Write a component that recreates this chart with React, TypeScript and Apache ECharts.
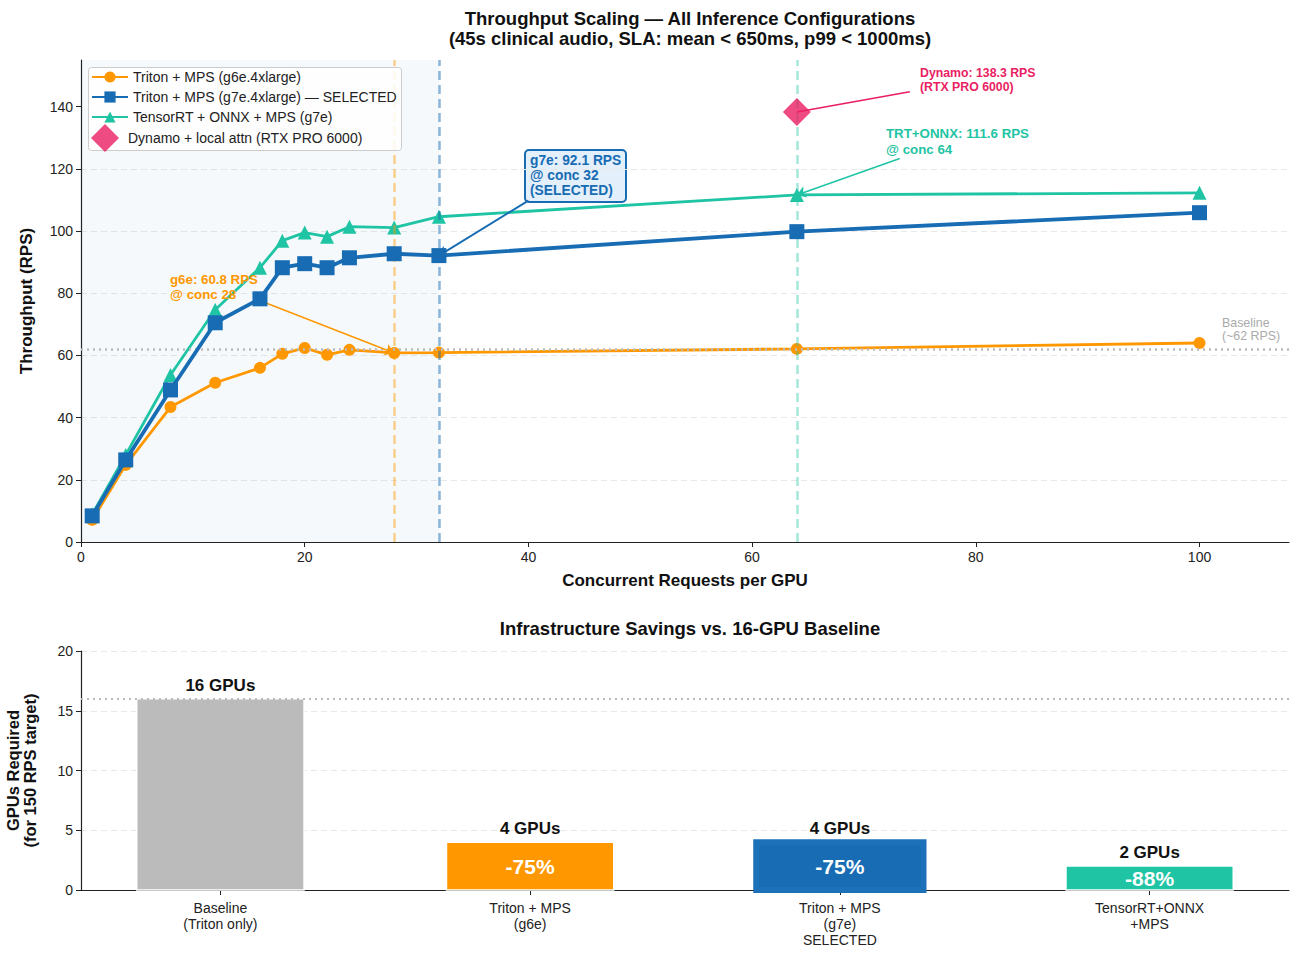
import React, { useEffect, useRef } from "react";
import * as echarts from "echarts";

const FONT = "'Liberation Sans', Arial, Helvetica, sans-serif";

// ---------- data ----------
const concurrency = [1, 4, 8, 12, 16, 18, 20, 22, 24, 28, 32, 64, 100];
const g6eRps = [7.1, 24.8, 43.4, 51.2, 56.0, 60.5, 62.4, 60.2, 61.8, 60.8, 60.9, 62.1, 64.0];
const g7eRps = [8.4, 26.4, 48.9, 70.5, 78.2, 88.2, 89.5, 88.2, 91.4, 92.7, 92.1, 99.8, 105.9];
const trtRps = [8.9, 28.0, 53.7, 74.7, 88.2, 96.9, 99.5, 98.2, 101.4, 101.1, 104.6, 111.6, 112.3];
const dynamoPoint = [64, 138.3];
const baselineRps = 62;

const seriesNames = [
  "Triton + MPS (g6e.4xlarge)",
  "Triton + MPS (g7e.4xlarge) — SELECTED",
  "TensorRT + ONNX + MPS (g7e)",
  "Dynamo + local attn (RTX PRO 6000)",
];

const xTicksTop = [0, 20, 40, 60, 80, 100];
const yTicksTop = [0, 20, 40, 60, 80, 100, 120, 140];

const barCategories = [
  "Baseline\n(Triton only)",
  "Triton + MPS\n(g6e)",
  "Triton + MPS\n(g7e)\nSELECTED",
  "TensorRT+ONNX\n+MPS",
];
const gpusRequired = [16, 4, 4, 2];
const savingsLabels = ["", "-75%", "-75%", "-88%"];
const baselineGpus = 16;

// ---------- styles ----------
const ORANGE = "#ff9800";
const BLUE = "#176cb3";
const TEAL = "#1fc4a4";
const PINK = "#e91e63";
const GRAY_BAR = "#bbbbbb";
const barColors = [GRAY_BAR, ORANGE, BLUE, TEAL];
const BAR_WIDTH_UNITS = 0.54;

const pairs = (ys: number[]) => concurrency.map((x, i) => [x, ys[i]]);

function renderBar(params: any, api: any) {
  const i = params.dataIndex;
  const x = api.value(0);
  const y = api.value(1);
  const top = api.coord([x, y]);
  const base = api.coord([x, 0]);
  const w = api.size([BAR_WIDTH_UNITS, 0])[0];
  const selected = i === 2;
  return {
    type: "group",
    children: [
      {
        type: "rect",
        shape: { x: top[0] - w / 2, y: top[1], width: w, height: base[1] - top[1] },
        style: {
          fill: barColors[i],
          stroke: selected ? "#1c71b8" : "#ffffff",
          lineWidth: selected ? 6 : 1.5,
        },
      },
      {
        type: "text",
        x: top[0],
        y: (top[1] + base[1]) / 2,
        style: {
          text: savingsLabels[i],
          fill: "#ffffff",
          fontSize: 21,
          fontWeight: "bold",
          fontFamily: FONT,
          align: "center",
          verticalAlign: "middle",
        },
      },
      {
        type: "text",
        x: top[0],
        y: top[1] - 5,
        style: {
          text: `${y} GPUs`,
          fill: "#111111",
          fontSize: 17,
          fontWeight: "bold",
          fontFamily: FONT,
          align: "center",
          verticalAlign: "bottom",
        },
      },
    ],
  };
}

function buildOption(): any {
  const axisLine = { show: true, onZero: false, lineStyle: { color: "#222", width: 1.2 } };
  const tickLabel = { fontSize: 14, color: "#222", fontFamily: FONT };
  const split = { show: true, lineStyle: { color: "#e8e8e8", type: [6, 4], width: 1 } };
  const legendText = { fontSize: 14, lineHeight: 14, color: "#222", fontFamily: FONT };

  return {
    animation: false,
    backgroundColor: "#fff",
    textStyle: { fontFamily: FONT },
    title: [
      {
        text: "Throughput Scaling — All Inference Configurations\n(45s clinical audio, SLA: mean < 650ms, p99 < 1000ms)",
        left: 685,
        top: 3,
        textAlign: "center",
        textStyle: { fontSize: 18.5, fontWeight: "bold", lineHeight: 20, color: "#111", fontFamily: FONT },
      },
      {
        text: "Infrastructure Savings vs. 16-GPU Baseline",
        left: 685,
        top: 614,
        textAlign: "center",
        textStyle: { fontSize: 18.5, fontWeight: "bold", color: "#111", fontFamily: FONT },
      },
    ],
    legend: [
      {
        orient: "vertical",
        left: 91,
        top: 70,
        itemWidth: 36,
        itemHeight: 14,
        itemGap: 6,
        padding: 0,
        textStyle: legendText,
        data: seriesNames.slice(0, 3),
        z: 12,
      },
      {
        orient: "vertical",
        left: 91,
        top: 124,
        itemWidth: 36,
        itemHeight: 28,
        padding: 0,
        textStyle: legendText,
        data: [{ name: seriesNames[3], icon: "path://M0,-1L1,0L0,1L-1,0Z" }],
        z: 12,
      },
    ],
    grid: [
      { left: 81, top: 60, right: 16, height: 482, containLabel: false, outerBoundsMode: "none" },
      { left: 81, top: 651, right: 16, height: 239, containLabel: false, outerBoundsMode: "none" },
    ],
    xAxis: [
      {
        type: "value",
        gridIndex: 0,
        min: 0,
        max: 108,
        axisLine,
        axisTick: { show: true, length: 5, customValues: xTicksTop, lineStyle: { color: "#222" } },
        axisLabel: { ...tickLabel, margin: 8, customValues: xTicksTop },
        splitLine: { show: false },
        name: "Concurrent Requests per GPU",
        nameLocation: "middle",
        nameGap: 30,
        nameTextStyle: { fontSize: 17, fontWeight: "bold", color: "#111", fontFamily: FONT },
      },
      {
        type: "value",
        gridIndex: 1,
        min: -0.45,
        max: 3.45,
        axisLine,
        axisTick: { show: true, length: 5, customValues: [0, 1, 2, 3], lineStyle: { color: "#222" } },
        axisLabel: {
          ...tickLabel,
          lineHeight: 16,
          margin: 10,
          customValues: [0, 1, 2, 3],
          formatter: (v: number) => barCategories[Math.round(v)] ?? "",
        },
        splitLine: { show: false },
      },
    ],
    yAxis: [
      {
        type: "value",
        gridIndex: 0,
        min: 0,
        max: 155,
        axisLine,
        axisTick: { show: true, length: 5, customValues: yTicksTop, lineStyle: { color: "#222" } },
        axisLabel: { ...tickLabel, margin: 8, customValues: yTicksTop },
        splitLine: { ...split, showMaxLine: false },
        name: "Throughput (RPS)",
        nameLocation: "middle",
        nameGap: 46,
        nameTextStyle: { fontSize: 17, fontWeight: "bold", color: "#111", fontFamily: FONT },
      },
      {
        type: "value",
        gridIndex: 1,
        min: 0,
        max: 20,
        interval: 5,
        axisLine,
        axisTick: { show: true, length: 5, lineStyle: { color: "#222" } },
        axisLabel: { ...tickLabel, margin: 8 },
        splitLine: split,
        name: "GPUs Required\n(for 150 RPS target)",
        nameLocation: "middle",
        nameGap: 43,
        nameTextStyle: { fontSize: 16.5, fontWeight: "bold", color: "#111", lineHeight: 17, fontFamily: FONT },
      },
    ],
    series: [
      // background helpers: shaded region, reference lines
      {
        type: "line",
        name: "helpers",
        xAxisIndex: 0,
        yAxisIndex: 0,
        data: [],
        silent: true,
        z: 1,
        markArea: {
          silent: true,
          itemStyle: { color: "rgba(30,110,190,0.045)" },
          data: [[{ xAxis: 0 }, { xAxis: 32 }]],
        },
        markLine: {
          silent: true,
          symbol: "none",
          label: { show: false },
          data: [
            { xAxis: 28, lineStyle: { color: ORANGE, opacity: 0.45, type: [9, 5], width: 2.5 } },
            { xAxis: 32, lineStyle: { color: BLUE, opacity: 0.5, type: [9, 5], width: 2.5 } },
            { xAxis: 64, lineStyle: { color: TEAL, opacity: 0.4, type: [9, 5], width: 2.5 } },
            { yAxis: baselineRps, lineStyle: { color: "#bbbbbb", type: [2, 4], width: 2.5 } },
          ],
        },
      },
      {
        type: "line",
        name: seriesNames[0],
        xAxisIndex: 0,
        yAxisIndex: 0,
        data: pairs(g6eRps),
        color: ORANGE,
        lineStyle: { width: 2.8, color: ORANGE },
        itemStyle: { color: ORANGE },
        symbol: "circle",
        symbolSize: 12,
        z: 3,
      },
      {
        type: "line",
        name: seriesNames[2],
        xAxisIndex: 0,
        yAxisIndex: 0,
        data: pairs(trtRps),
        color: TEAL,
        lineStyle: { width: 2.8, color: TEAL },
        itemStyle: { color: TEAL },
        symbol: "triangle",
        symbolSize: 14,
        z: 4,
      },
      {
        type: "line",
        name: seriesNames[1],
        xAxisIndex: 0,
        yAxisIndex: 0,
        data: pairs(g7eRps),
        color: BLUE,
        lineStyle: { width: 3.8, color: BLUE },
        itemStyle: { color: BLUE },
        symbol: "rect",
        symbolSize: 15,
        z: 5,
      },
      {
        type: "scatter",
        name: seriesNames[3],
        xAxisIndex: 0,
        yAxisIndex: 0,
        data: [dynamoPoint],
        color: PINK,
        itemStyle: { color: PINK },
        symbol: "diamond",
        symbolSize: 28,
        z: 6,
      },
      // annotation arrows
      {
        type: "line",
        name: "annotations",
        xAxisIndex: 0,
        yAxisIndex: 0,
        data: [],
        silent: true,
        z: 7,
        markLine: {
          silent: true,
          symbolSize: 9,
          label: { show: false },
          data: [
            [
              { coord: [15.8, 77.9], symbol: "none", lineStyle: { color: ORANGE, width: 1.5, type: "solid" } },
              { coord: [28, 60.8], symbol: "arrow" },
            ],
            [
              { coord: [40.0, 109.8], symbol: "none", lineStyle: { color: BLUE, width: 2, type: "solid" } },
              { coord: [32, 92.1], symbol: "arrow" },
            ],
            [
              { coord: [73.2, 123.3], symbol: "none", lineStyle: { color: TEAL, width: 1.5, type: "solid" } },
              { coord: [64, 111.6], symbol: "arrow" },
            ],
            [
              { coord: [74.1, 144.8], symbol: "none", lineStyle: { color: PINK, width: 1.6, type: "solid" } },
              { coord: [dynamoPoint[0], dynamoPoint[1]], symbol: "none" },
            ],
          ],
        },
      },
      // bottom bars (custom so the value axis is not padded)
      {
        type: "custom",
        name: "gpus",
        xAxisIndex: 1,
        yAxisIndex: 1,
        data: gpusRequired.map((v, i) => [i, v]),
        encode: { x: 0, y: 1 },
        renderItem: renderBar,
        silent: true,
        clip: false,
        z: 2,
        markLine: {
          silent: true,
          symbol: "none",
          label: { show: false },
          data: [{ yAxis: baselineGpus, lineStyle: { color: "#bbbbbb", type: [2, 4], width: 2.2 } }],
        },
      },
    ],
    graphic: [
      {
        type: "rect",
        left: 88,
        top: 67,
        z: 10,
        shape: { width: 313, height: 83, r: 3 },
        style: { fill: "rgba(255,255,255,0.85)", stroke: "#cccccc", lineWidth: 1 },
      },
      {
        type: "text",
        left: 170,
        top: 272,
        z: 20,
        style: {
          text: "g6e: 60.8 RPS\n@ conc 28",
          fill: ORANGE,
          fontSize: 13.3,
          fontWeight: "bold",
          fontFamily: FONT,
          lineHeight: 15,
        },
      },
      {
        type: "group",
        left: 524,
        top: 149,
        z: 20,
        children: [
          {
            type: "rect",
            shape: { x: 0, y: 0, width: 101, height: 52, r: 4 },
            style: { fill: "#e3effa", stroke: BLUE, lineWidth: 2 },
          },
          {
            type: "text",
            x: 5,
            y: 3,
            style: {
              text: "g7e: 92.1 RPS\n@ conc 32\n(SELECTED)",
              fill: BLUE,
              fontSize: 13.8,
              fontWeight: "bold",
              fontFamily: FONT,
              lineHeight: 15,
            },
          },
        ],
      },
      {
        type: "text",
        left: 886,
        top: 125,
        z: 20,
        style: {
          text: "TRT+ONNX: 111.6 RPS\n@ conc 64",
          fill: TEAL,
          fontSize: 13.3,
          fontWeight: "bold",
          fontFamily: FONT,
          lineHeight: 16,
        },
      },
      {
        type: "text",
        left: 920,
        top: 66,
        z: 20,
        style: {
          text: "Dynamo: 138.3 RPS\n(RTX PRO 6000)",
          fill: PINK,
          fontSize: 12.3,
          fontWeight: "bold",
          fontFamily: FONT,
          lineHeight: 14,
        },
      },
      {
        type: "text",
        left: 1222,
        top: 316,
        z: 20,
        style: {
          text: "Baseline\n(~62 RPS)",
          fill: "#aaaaaa",
          fontSize: 12.4,
          fontFamily: FONT,
          lineHeight: 13,
        },
      },
    ],
  };
}

export default function App() {
  const ref = useRef<HTMLDivElement>(null);
  useEffect(() => {
    if (!ref.current) return;
    const chart = echarts.init(ref.current, null, { renderer: "svg" });
    chart.setOption(buildOption());
    return () => chart.dispose();
  }, []);
  return (
    <div
      ref={ref}
      style={{ position: "absolute", left: 0, top: 0, width: 1305, height: 963, background: "#fff" }}
    />
  );
}
